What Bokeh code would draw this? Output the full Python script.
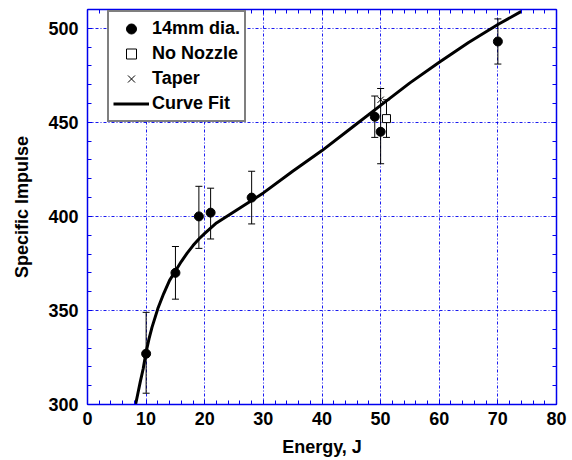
from bokeh.plotting import figure
from bokeh.models import (ColumnDataSource, Whisker, TeeHead, Legend, LegendItem,
                          SingleIntervalTicker, LinearAxis, Range1d)
from bokeh.embed import file_html
from bokeh.resources import INLINE

# ---- data ----
x14 = [10, 15, 19, 21, 28, 49, 50, 70]
y14 = [327, 370, 400, 402, 410, 453, 445, 493]
up14 = [349, 384, 416, 415, 424, 464, 468, 505]
lo14 = [306, 356, 383, 388, 396, 442, 428, 481]

x_nozzle = [51]
y_nozzle = [452]
up_nozzle = [462]
lo_nozzle = [442]

x_taper = [50]
y_taper = [462]

fit_x = [8.2, 8.6, 9.0, 9.5, 10, 10.5, 11, 12, 13, 14, 15, 16, 17, 18, 19, 20, 22,
         25, 28, 30, 35, 40, 45, 50, 55, 60, 65, 70, 74]
fit_y = [300, 306, 312, 319, 328, 335, 341, 351, 359, 366, 371, 376, 380.5, 384.5, 388, 391, 396.5,
         402.5, 408.5, 412.5, 424, 435, 447, 459, 471, 482, 492.5, 502, 509]

x_ticks = [0, 10, 20, 30, 40, 50, 60, 70, 80]
y_ticks = [300, 350, 400, 450, 500]

FONT = "Liberation Sans"
BLUE = "#0000ee"

p = figure(frame_width=469, frame_height=395, output_backend="svg", toolbar_location=None,
           x_range=Range1d(0, 80), y_range=Range1d(300, 510),
           min_border_left=87, min_border_right=16, min_border_top=9, min_border_bottom=10,
           background_fill_color="white", border_fill_color="white", outline_line_color=None)

# axes
for ax in (p.xaxis[0], p.yaxis[0]):
    ax.axis_line_color = BLUE
    ax.axis_line_width = 1.5
    ax.major_tick_line_color = BLUE
    ax.minor_tick_line_color = BLUE
    ax.major_tick_in = 5
    ax.major_tick_out = 0
    ax.minor_tick_in = 4
    ax.minor_tick_out = 0
    ax.major_label_text_font = FONT
    ax.major_label_text_font_style = "bold"
    ax.major_label_text_font_size = "18px"
    ax.major_label_text_color = "black"
    ax.axis_label_text_font = FONT
    ax.axis_label_text_font_style = "bold"
    ax.axis_label_text_font_size = "18px"
    ax.axis_label_text_color = "black"

p.xaxis[0].ticker = SingleIntervalTicker(interval=10, num_minor_ticks=5)
p.yaxis[0].ticker = SingleIntervalTicker(interval=50, num_minor_ticks=5)
p.xaxis[0].axis_label = "Energy, J"
p.yaxis[0].axis_label = "Specific Impulse"
p.xaxis[0].major_label_standoff = 7
p.yaxis[0].major_label_standoff = 9
p.xaxis[0].axis_label_standoff = 9
p.yaxis[0].axis_label_standoff = 13

# top and right axes (ticks only)
top = LinearAxis(ticker=SingleIntervalTicker(interval=10, num_minor_ticks=5))
right = LinearAxis(ticker=SingleIntervalTicker(interval=50, num_minor_ticks=5))
for ax in (top, right):
    ax.axis_line_color = BLUE
    ax.axis_line_width = 1.5
    ax.major_tick_line_color = BLUE
    ax.minor_tick_line_color = BLUE
    ax.major_tick_in = 5
    ax.major_tick_out = 0
    ax.minor_tick_in = 4
    ax.minor_tick_out = 0
    ax.major_label_text_color = None
    ax.major_label_standoff = 0
p.add_layout(top, "above")
p.add_layout(right, "right")

# grid
p.xgrid.ticker = SingleIntervalTicker(interval=10)
p.ygrid.ticker = SingleIntervalTicker(interval=50)
for g in (p.xgrid[0], p.ygrid[0]):
    g.grid_line_color = BLUE
    g.grid_line_width = 1
    g.grid_line_dash = "3 2 1 2"
    g.grid_line_alpha = 0.9

# curve fit
fit_r = p.line(fit_x, fit_y, line_color="black", line_width=3)

# error bars
src14 = ColumnDataSource(dict(x=x14, y=y14, up=up14, lo=lo14))
p.add_layout(Whisker(base="x", upper="up", lower="lo", source=src14, dimension="height",
                     line_color="black", line_width=1,
                     upper_head=TeeHead(size=7, line_color="black", line_width=1),
                     lower_head=TeeHead(size=7, line_color="black", line_width=1)))
srcn = ColumnDataSource(dict(x=x_nozzle, y=y_nozzle, up=up_nozzle, lo=lo_nozzle))
p.add_layout(Whisker(base="x", upper="up", lower="lo", source=srcn, dimension="height",
                     line_color="black", line_width=1,
                     upper_head=TeeHead(size=7, line_color="black", line_width=1),
                     lower_head=TeeHead(size=7, line_color="black", line_width=1)))

r14 = p.scatter("x", "y", source=src14, marker="circle", size=9,
                fill_color="black", line_color="black")
rn = p.scatter("x", "y", source=srcn, marker="square", size=8,
               fill_color="white", line_color="black", line_width=1)
rt = p.scatter(x_taper, y_taper, marker="x", size=9, line_color="black", line_width=1)

legend = Legend(items=[
    LegendItem(label="14mm dia.", renderers=[r14]),
    LegendItem(label="No Nozzle", renderers=[rn]),
    LegendItem(label="Taper", renderers=[rt]),
    LegendItem(label="Curve Fit", renderers=[fit_r]),
], location=(20, 282))
legend.margin = 0
legend.padding = 4
legend.spacing = 0
legend.glyph_width = 36
legend.glyph_height = 25
legend.label_height = 25
legend.label_standoff = 3
legend.label_text_font = FONT
legend.label_text_font_style = "bold"
legend.label_text_font_size = "18px"
legend.label_text_color = "black"
legend.border_line_color = "black"
legend.border_line_width = 2
legend.background_fill_color = "white"
legend.background_fill_alpha = 1
p.add_layout(legend, "center")

open("out.html", "w").write(file_html(p, INLINE))
